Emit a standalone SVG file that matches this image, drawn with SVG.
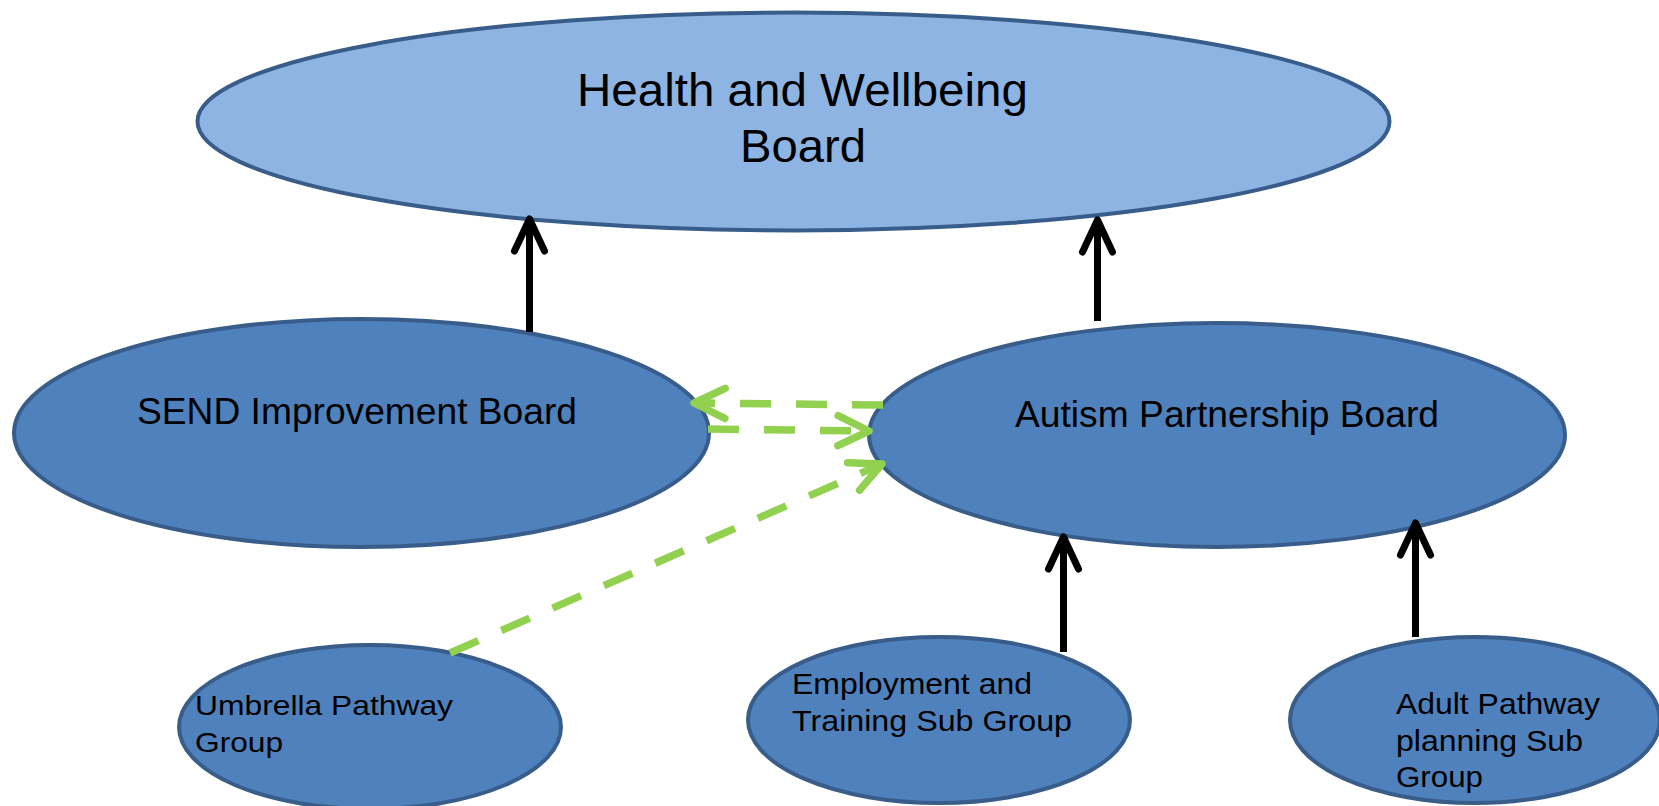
<svg xmlns="http://www.w3.org/2000/svg" width="1659" height="806" viewBox="0 0 1659 806">
  <style>
    .node { fill: #4F81BD; stroke: #385D8A; stroke-width: 4; }
    .top { fill: #8EB4E3; stroke: #385D8A; stroke-width: 4; }
    .lbl { font-family: "Liberation Sans", Arial, sans-serif; fill: #000000; }
    .solid { fill: none; stroke: #000000; stroke-width: 7; }
    .dash { fill: none; stroke: #92D050; stroke-width: 7.5; stroke-dasharray: 31 25; }
  </style>
  <defs>
    <marker id="blackHead" markerUnits="userSpaceOnUse" orient="auto" refX="0" refY="0" markerWidth="40" markerHeight="40" overflow="visible">
      <path d="M-32,-15 L0,0 L-32,15" fill="none" stroke="#000000" stroke-width="7" stroke-linecap="round" stroke-linejoin="round"/>
    </marker>
    <marker id="greenHead" markerUnits="userSpaceOnUse" orient="auto" refX="0" refY="0" markerWidth="40" markerHeight="40" overflow="visible">
      <path d="M-31,-15 L0,0 L-31,15" fill="none" stroke="#92D050" stroke-width="7.5" stroke-linecap="round" stroke-linejoin="round"/>
    </marker>
  </defs>

  <g id="health-wellbeing-board">
    <ellipse class="top" cx="793.5" cy="121.5" rx="596" ry="109"/>
    <text class="lbl" x="577" y="106" font-size="47" textLength="451" lengthAdjust="spacingAndGlyphs">Health and Wellbeing</text>
    <text class="lbl" x="740" y="162" font-size="47" textLength="126" lengthAdjust="spacingAndGlyphs">Board</text>
  </g>

  <g id="send-improvement-board">
    <ellipse class="node" cx="361.5" cy="433" rx="347.5" ry="114"/>
    <text class="lbl" x="137" y="424" font-size="36" textLength="440" lengthAdjust="spacingAndGlyphs">SEND Improvement Board</text>
  </g>

  <g id="autism-partnership-board">
    <ellipse class="node" cx="1217" cy="435" rx="348" ry="112"/>
    <text class="lbl" x="1015" y="427" font-size="36" textLength="424" lengthAdjust="spacingAndGlyphs">Autism Partnership Board</text>
  </g>

  <g id="umbrella-pathway-group">
    <ellipse class="node" cx="370" cy="727" rx="191" ry="82"/>
    <text class="lbl" x="195" y="715" font-size="27.5" textLength="258" lengthAdjust="spacingAndGlyphs">Umbrella Pathway</text>
    <text class="lbl" x="195" y="752" font-size="27.5" textLength="88" lengthAdjust="spacingAndGlyphs">Group</text>
  </g>

  <g id="employment-training-sub-group">
    <ellipse class="node" cx="939" cy="720" rx="191" ry="83"/>
    <text class="lbl" x="792" y="694" font-size="30" textLength="240" lengthAdjust="spacingAndGlyphs">Employment and</text>
    <text class="lbl" x="792" y="731" font-size="30" textLength="280" lengthAdjust="spacingAndGlyphs">Training Sub Group</text>
  </g>

  <g id="adult-pathway-planning-sub-group">
    <ellipse class="node" cx="1475" cy="720" rx="185" ry="83"/>
    <text class="lbl" x="1396" y="714" font-size="30" textLength="204" lengthAdjust="spacingAndGlyphs">Adult Pathway</text>
    <text class="lbl" x="1396" y="751" font-size="30" textLength="187" lengthAdjust="spacingAndGlyphs">planning Sub</text>
    <text class="lbl" x="1396" y="787" font-size="30" textLength="87" lengthAdjust="spacingAndGlyphs">Group</text>
  </g>

  <g id="connectors">
    <path class="solid" d="M529.5,332 L529.5,219" marker-end="url(#blackHead)"/>
    <path class="solid" d="M1097.5,321 L1097.5,220" marker-end="url(#blackHead)"/>
    <path class="solid" d="M1063.5,652 L1063.5,537" marker-end="url(#blackHead)"/>
    <path class="solid" d="M1415.5,637 L1415.5,523" marker-end="url(#blackHead)"/>
    <path class="dash" d="M883,405 L694,403" marker-end="url(#greenHead)"/>
    <path class="dash" d="M708,429 L869,431" marker-end="url(#greenHead)"/>
    <path class="dash" d="M450,653 L882,464" marker-end="url(#greenHead)"/>
  </g>
</svg>
